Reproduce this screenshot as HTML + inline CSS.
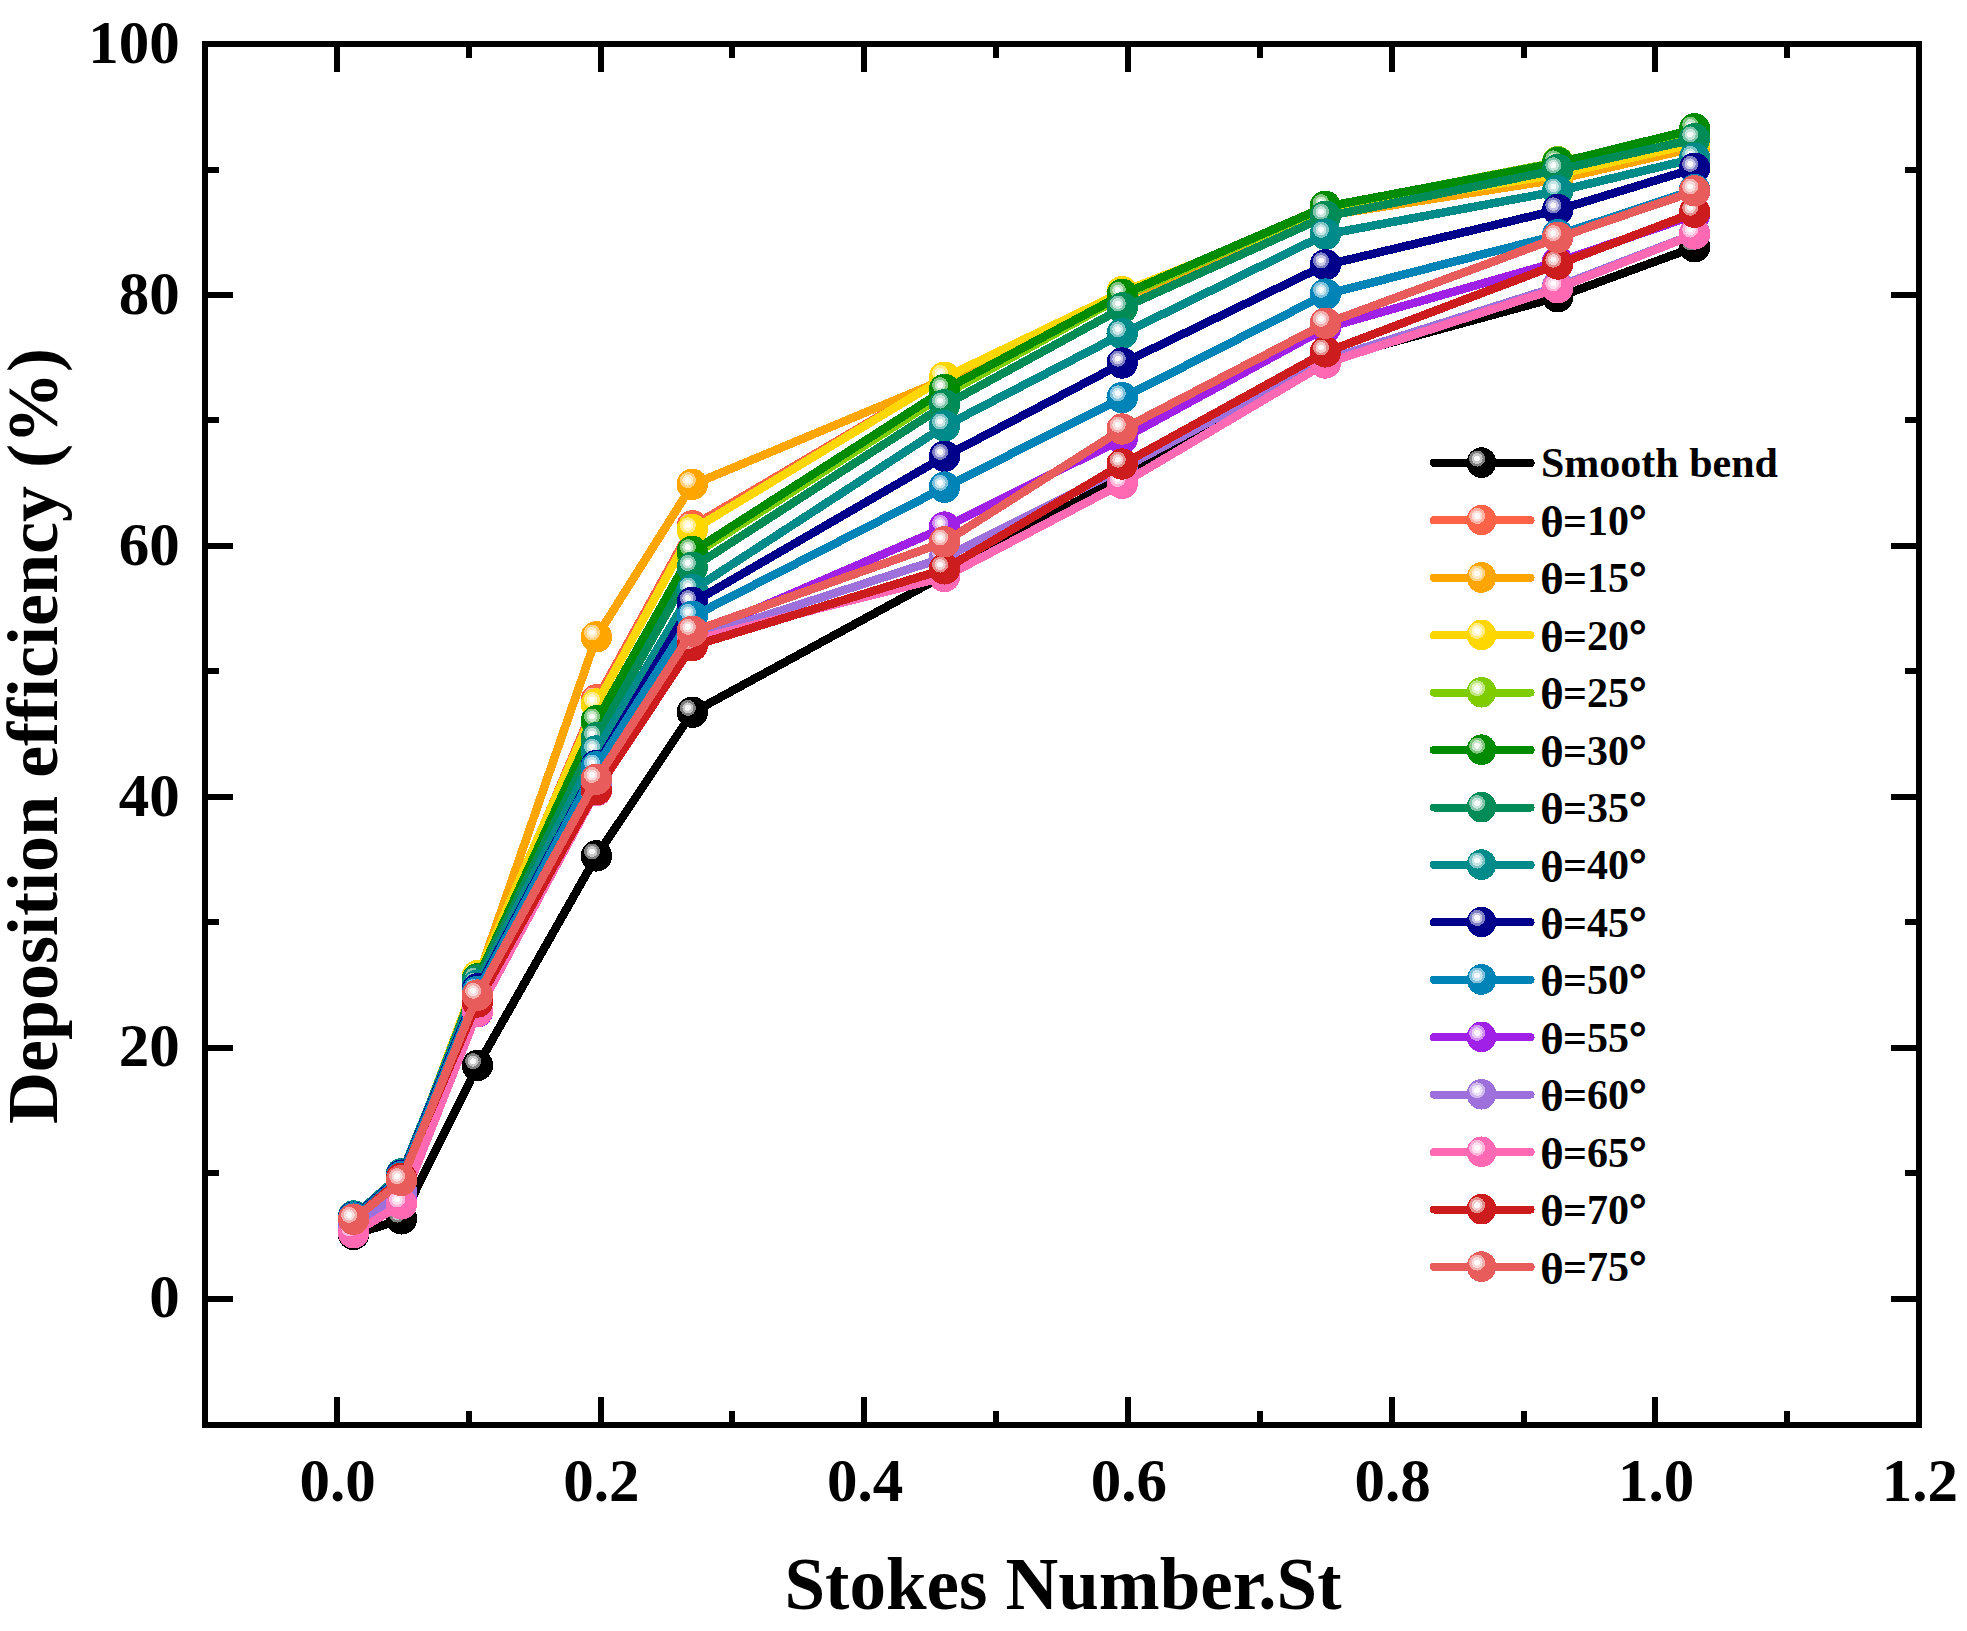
<!DOCTYPE html>
<html lang="en"><head><meta charset="utf-8"><title>Deposition efficiency vs Stokes Number</title>
<style>
html,body{margin:0;padding:0;background:#fff;}
body{width:1967px;height:1631px;overflow:hidden;}
svg{display:block;}
text{font-family:"Liberation Serif","Times New Roman",Times,serif;font-weight:bold;fill:#000;}
.tk{font-size:61px;}
.ttl{font-size:73px;}
.lg{font-size:42px;}
.ax{stroke:#000;stroke-width:6;fill:none;shape-rendering:crispEdges;}
.s{fill:none;stroke-width:8.5;stroke-linejoin:round;stroke-linecap:round;shape-rendering:crispEdges;}
.m{shape-rendering:crispEdges;}
</style></head><body>
<svg width="1967" height="1631" viewBox="0 0 1967 1631">
<rect x="0" y="0" width="1967" height="1631" fill="#fff"/>
<defs>
<g id="m0" class="m"><circle r="15.7" fill="#000000"/><circle cx="-4.4" cy="-4.3" r="8" fill="#808080"/><circle cx="-4.4" cy="-4.3" r="5.5" fill="#C7C7C7"/><circle cx="-4.4" cy="-4.3" r="2.9" fill="#F7F7F7"/></g>
<g id="k0" class="m"><ellipse cy="-0.3" rx="14.8" ry="15.3" fill="#000000"/><circle cx="-4.4" cy="-4.3" r="8" fill="#808080"/><circle cx="-4.4" cy="-4.3" r="5.5" fill="#C7C7C7"/><circle cx="-4.4" cy="-4.3" r="2.9" fill="#F7F7F7"/></g>
<g id="m1" class="m"><circle r="15.7" fill="#FF6347"/><circle cx="-4.4" cy="-4.3" r="8" fill="#FFB1A3"/><circle cx="-4.4" cy="-4.3" r="5.5" fill="#FFDDD7"/><circle cx="-4.4" cy="-4.3" r="2.9" fill="#FFFAF9"/></g>
<g id="k1" class="m"><ellipse cy="-0.3" rx="14.8" ry="15.3" fill="#FF6347"/><circle cx="-4.4" cy="-4.3" r="8" fill="#FFB1A3"/><circle cx="-4.4" cy="-4.3" r="5.5" fill="#FFDDD7"/><circle cx="-4.4" cy="-4.3" r="2.9" fill="#FFFAF9"/></g>
<g id="m2" class="m"><circle r="15.7" fill="#FFA500"/><circle cx="-4.4" cy="-4.3" r="8" fill="#FFD280"/><circle cx="-4.4" cy="-4.3" r="5.5" fill="#FFEBC7"/><circle cx="-4.4" cy="-4.3" r="2.9" fill="#FFFCF7"/></g>
<g id="k2" class="m"><ellipse cy="-0.3" rx="14.8" ry="15.3" fill="#FFA500"/><circle cx="-4.4" cy="-4.3" r="8" fill="#FFD280"/><circle cx="-4.4" cy="-4.3" r="5.5" fill="#FFEBC7"/><circle cx="-4.4" cy="-4.3" r="2.9" fill="#FFFCF7"/></g>
<g id="m3" class="m"><circle r="15.7" fill="#FFD700"/><circle cx="-4.4" cy="-4.3" r="8" fill="#FFEB80"/><circle cx="-4.4" cy="-4.3" r="5.5" fill="#FFF6C7"/><circle cx="-4.4" cy="-4.3" r="2.9" fill="#FFFEF7"/></g>
<g id="k3" class="m"><ellipse cy="-0.3" rx="14.8" ry="15.3" fill="#FFD700"/><circle cx="-4.4" cy="-4.3" r="8" fill="#FFEB80"/><circle cx="-4.4" cy="-4.3" r="5.5" fill="#FFF6C7"/><circle cx="-4.4" cy="-4.3" r="2.9" fill="#FFFEF7"/></g>
<g id="m4" class="m"><circle r="15.7" fill="#7FCC00"/><circle cx="-4.4" cy="-4.3" r="8" fill="#BFE680"/><circle cx="-4.4" cy="-4.3" r="5.5" fill="#E3F4C7"/><circle cx="-4.4" cy="-4.3" r="2.9" fill="#FBFDF7"/></g>
<g id="k4" class="m"><ellipse cy="-0.3" rx="14.8" ry="15.3" fill="#7FCC00"/><circle cx="-4.4" cy="-4.3" r="8" fill="#BFE680"/><circle cx="-4.4" cy="-4.3" r="5.5" fill="#E3F4C7"/><circle cx="-4.4" cy="-4.3" r="2.9" fill="#FBFDF7"/></g>
<g id="m5" class="m"><circle r="15.7" fill="#008B00"/><circle cx="-4.4" cy="-4.3" r="8" fill="#80C580"/><circle cx="-4.4" cy="-4.3" r="5.5" fill="#C7E5C7"/><circle cx="-4.4" cy="-4.3" r="2.9" fill="#F7FCF7"/></g>
<g id="k5" class="m"><ellipse cy="-0.3" rx="14.8" ry="15.3" fill="#008B00"/><circle cx="-4.4" cy="-4.3" r="8" fill="#80C580"/><circle cx="-4.4" cy="-4.3" r="5.5" fill="#C7E5C7"/><circle cx="-4.4" cy="-4.3" r="2.9" fill="#F7FCF7"/></g>
<g id="m6" class="m"><circle r="15.7" fill="#008B57"/><circle cx="-4.4" cy="-4.3" r="8" fill="#80C5AB"/><circle cx="-4.4" cy="-4.3" r="5.5" fill="#C7E5DA"/><circle cx="-4.4" cy="-4.3" r="2.9" fill="#F7FCFA"/></g>
<g id="k6" class="m"><ellipse cy="-0.3" rx="14.8" ry="15.3" fill="#008B57"/><circle cx="-4.4" cy="-4.3" r="8" fill="#80C5AB"/><circle cx="-4.4" cy="-4.3" r="5.5" fill="#C7E5DA"/><circle cx="-4.4" cy="-4.3" r="2.9" fill="#F7FCFA"/></g>
<g id="m7" class="m"><circle r="15.7" fill="#008B8B"/><circle cx="-4.4" cy="-4.3" r="8" fill="#80C5C5"/><circle cx="-4.4" cy="-4.3" r="5.5" fill="#C7E5E5"/><circle cx="-4.4" cy="-4.3" r="2.9" fill="#F7FCFC"/></g>
<g id="k7" class="m"><ellipse cy="-0.3" rx="14.8" ry="15.3" fill="#008B8B"/><circle cx="-4.4" cy="-4.3" r="8" fill="#80C5C5"/><circle cx="-4.4" cy="-4.3" r="5.5" fill="#C7E5E5"/><circle cx="-4.4" cy="-4.3" r="2.9" fill="#F7FCFC"/></g>
<g id="m8" class="m"><circle r="15.7" fill="#00008B"/><circle cx="-4.4" cy="-4.3" r="8" fill="#8080C5"/><circle cx="-4.4" cy="-4.3" r="5.5" fill="#C7C7E5"/><circle cx="-4.4" cy="-4.3" r="2.9" fill="#F7F7FC"/></g>
<g id="k8" class="m"><ellipse cy="-0.3" rx="14.8" ry="15.3" fill="#00008B"/><circle cx="-4.4" cy="-4.3" r="8" fill="#8080C5"/><circle cx="-4.4" cy="-4.3" r="5.5" fill="#C7C7E5"/><circle cx="-4.4" cy="-4.3" r="2.9" fill="#F7F7FC"/></g>
<g id="m9" class="m"><circle r="15.7" fill="#0084B8"/><circle cx="-4.4" cy="-4.3" r="8" fill="#80C2DC"/><circle cx="-4.4" cy="-4.3" r="5.5" fill="#C7E4EF"/><circle cx="-4.4" cy="-4.3" r="2.9" fill="#F7FBFD"/></g>
<g id="k9" class="m"><ellipse cy="-0.3" rx="14.8" ry="15.3" fill="#0084B8"/><circle cx="-4.4" cy="-4.3" r="8" fill="#80C2DC"/><circle cx="-4.4" cy="-4.3" r="5.5" fill="#C7E4EF"/><circle cx="-4.4" cy="-4.3" r="2.9" fill="#F7FBFD"/></g>
<g id="m10" class="m"><circle r="15.7" fill="#A020E8"/><circle cx="-4.4" cy="-4.3" r="8" fill="#D090F4"/><circle cx="-4.4" cy="-4.3" r="5.5" fill="#EACEFA"/><circle cx="-4.4" cy="-4.3" r="2.9" fill="#FCF8FE"/></g>
<g id="k10" class="m"><ellipse cy="-0.3" rx="14.8" ry="15.3" fill="#A020E8"/><circle cx="-4.4" cy="-4.3" r="8" fill="#D090F4"/><circle cx="-4.4" cy="-4.3" r="5.5" fill="#EACEFA"/><circle cx="-4.4" cy="-4.3" r="2.9" fill="#FCF8FE"/></g>
<g id="m11" class="m"><circle r="15.7" fill="#9E70DC"/><circle cx="-4.4" cy="-4.3" r="8" fill="#CEB8EE"/><circle cx="-4.4" cy="-4.3" r="5.5" fill="#EAE0F7"/><circle cx="-4.4" cy="-4.3" r="2.9" fill="#FCFBFE"/></g>
<g id="k11" class="m"><ellipse cy="-0.3" rx="14.8" ry="15.3" fill="#9E70DC"/><circle cx="-4.4" cy="-4.3" r="8" fill="#CEB8EE"/><circle cx="-4.4" cy="-4.3" r="5.5" fill="#EAE0F7"/><circle cx="-4.4" cy="-4.3" r="2.9" fill="#FCFBFE"/></g>
<g id="m12" class="m"><circle r="15.7" fill="#FF69B4"/><circle cx="-4.4" cy="-4.3" r="8" fill="#FFB4DA"/><circle cx="-4.4" cy="-4.3" r="5.5" fill="#FFDEEE"/><circle cx="-4.4" cy="-4.3" r="2.9" fill="#FFFAFD"/></g>
<g id="k12" class="m"><ellipse cy="-0.3" rx="14.8" ry="15.3" fill="#FF69B4"/><circle cx="-4.4" cy="-4.3" r="8" fill="#FFB4DA"/><circle cx="-4.4" cy="-4.3" r="5.5" fill="#FFDEEE"/><circle cx="-4.4" cy="-4.3" r="2.9" fill="#FFFAFD"/></g>
<g id="m13" class="m"><circle r="15.7" fill="#CD1C1E"/><circle cx="-4.4" cy="-4.3" r="8" fill="#E68E8E"/><circle cx="-4.4" cy="-4.3" r="5.5" fill="#F4CDCE"/><circle cx="-4.4" cy="-4.3" r="2.9" fill="#FEF8F8"/></g>
<g id="k13" class="m"><ellipse cy="-0.3" rx="14.8" ry="15.3" fill="#CD1C1E"/><circle cx="-4.4" cy="-4.3" r="8" fill="#E68E8E"/><circle cx="-4.4" cy="-4.3" r="5.5" fill="#F4CDCE"/><circle cx="-4.4" cy="-4.3" r="2.9" fill="#FEF8F8"/></g>
<g id="m14" class="m"><circle r="15.7" fill="#E85C5C"/><circle cx="-4.4" cy="-4.3" r="8" fill="#F4AEAE"/><circle cx="-4.4" cy="-4.3" r="5.5" fill="#FADBDB"/><circle cx="-4.4" cy="-4.3" r="2.9" fill="#FEFAFA"/></g>
<g id="k14" class="m"><ellipse cy="-0.3" rx="14.8" ry="15.3" fill="#E85C5C"/><circle cx="-4.4" cy="-4.3" r="8" fill="#F4AEAE"/><circle cx="-4.4" cy="-4.3" r="5.5" fill="#FADBDB"/><circle cx="-4.4" cy="-4.3" r="2.9" fill="#FEFAFA"/></g>
</defs>
<g id="plots">
<polyline class="s" transform="translate(0 0.4)" stroke="#000000" points="353.6,1234.4 401.5,1218.9 477.5,1065.5 596.4,855.9 692.3,712.2 944.5,574.8 1122.2,475.7 1325.4,360.2 1557.7,296.8 1694.6,246.7"/>
<use href="#m0" x="353.6" y="1234.4"/><use href="#m0" x="401.5" y="1218.9"/><use href="#m0" x="477.5" y="1065.5"/><use href="#m0" x="596.4" y="855.9"/><use href="#m0" x="692.3" y="712.2"/><use href="#m0" x="944.5" y="574.8"/><use href="#m0" x="1122.2" y="475.7"/><use href="#m0" x="1325.4" y="360.2"/><use href="#m0" x="1557.7" y="296.8"/><use href="#m0" x="1694.6" y="246.7"/>
<polyline class="s" transform="translate(0 0.4)" stroke="#FF6347" points="353.6,1219.7 401.5,1179.6 477.5,981.3 596.4,699.8 692.3,525.8 944.5,377.3 1122.2,296.2 1325.4,212.1 1557.7,178.3 1694.6,146.9"/>
<use href="#m1" x="353.6" y="1219.7"/><use href="#m1" x="401.5" y="1179.6"/><use href="#m1" x="477.5" y="981.3"/><use href="#m1" x="596.4" y="699.8"/><use href="#m1" x="692.3" y="525.8"/><use href="#m1" x="944.5" y="377.3"/><use href="#m1" x="1122.2" y="296.2"/><use href="#m1" x="1325.4" y="212.1"/><use href="#m1" x="1557.7" y="178.3"/><use href="#m1" x="1694.6" y="146.9"/>
<polyline class="s" transform="translate(0 0.4)" stroke="#FFA500" points="353.6,1219.7 401.5,1179.6 477.5,978.8 596.4,636.8 692.3,484.4 944.5,379 1122.2,297.5 1325.4,215.3 1557.7,179 1694.6,147.5"/>
<use href="#m2" x="353.6" y="1219.7"/><use href="#m2" x="401.5" y="1179.6"/><use href="#m2" x="477.5" y="978.8"/><use href="#m2" x="596.4" y="636.8"/><use href="#m2" x="692.3" y="484.4"/><use href="#m2" x="944.5" y="379"/><use href="#m2" x="1122.2" y="297.5"/><use href="#m2" x="1325.4" y="215.3"/><use href="#m2" x="1557.7" y="179"/><use href="#m2" x="1694.6" y="147.5"/>
<polyline class="s" transform="translate(0 0.4)" stroke="#FFD700" points="353.6,1219.7 401.5,1179.6 477.5,975.6 596.4,704 692.3,529.6 944.5,377.3 1122.2,291.7 1325.4,210.9 1557.7,174 1694.6,143.1"/>
<use href="#m3" x="353.6" y="1219.7"/><use href="#m3" x="401.5" y="1179.6"/><use href="#m3" x="477.5" y="975.6"/><use href="#m3" x="596.4" y="704"/><use href="#m3" x="692.3" y="529.6"/><use href="#m3" x="944.5" y="377.3"/><use href="#m3" x="1122.2" y="291.7"/><use href="#m3" x="1325.4" y="210.9"/><use href="#m3" x="1557.7" y="174"/><use href="#m3" x="1694.6" y="143.1"/>
<polyline class="s" transform="translate(0 0.4)" stroke="#7FCC00" points="353.6,1228.5 401.5,1194 477.5,978.8 596.4,721.6 692.3,555.1 944.5,394.1 1122.2,296.2 1325.4,207.1 1557.7,161.7 1694.6,133.1"/>
<use href="#m4" x="353.6" y="1228.5"/><use href="#m4" x="401.5" y="1194"/><use href="#m4" x="477.5" y="978.8"/><use href="#m4" x="596.4" y="721.6"/><use href="#m4" x="692.3" y="555.1"/><use href="#m4" x="944.5" y="394.1"/><use href="#m4" x="1122.2" y="296.2"/><use href="#m4" x="1325.4" y="207.1"/><use href="#m4" x="1557.7" y="161.7"/><use href="#m4" x="1694.6" y="133.1"/>
<polyline class="s" transform="translate(0 0.4)" stroke="#008B00" points="353.6,1219.7 401.5,1179.6 477.5,978.8 596.4,720.8 692.3,551.4 944.5,389.4 1122.2,294.3 1325.4,206.4 1557.7,162.6 1694.6,128.9"/>
<use href="#m5" x="353.6" y="1219.7"/><use href="#m5" x="401.5" y="1179.6"/><use href="#m5" x="477.5" y="978.8"/><use href="#m5" x="596.4" y="720.8"/><use href="#m5" x="692.3" y="551.4"/><use href="#m5" x="944.5" y="389.4"/><use href="#m5" x="1122.2" y="294.3"/><use href="#m5" x="1325.4" y="206.4"/><use href="#m5" x="1557.7" y="162.6"/><use href="#m5" x="1694.6" y="128.9"/>
<polyline class="s" transform="translate(0 0.4)" stroke="#008B57" points="353.6,1218.5 401.5,1177.1 477.5,980.1 596.4,737.9 692.3,567.3 944.5,404.9 1122.2,307.8 1325.4,216.2 1557.7,169.5 1694.6,138.7"/>
<use href="#m6" x="353.6" y="1218.5"/><use href="#m6" x="401.5" y="1177.1"/><use href="#m6" x="477.5" y="980.1"/><use href="#m6" x="596.4" y="737.9"/><use href="#m6" x="692.3" y="567.3"/><use href="#m6" x="944.5" y="404.9"/><use href="#m6" x="1122.2" y="307.8"/><use href="#m6" x="1325.4" y="216.2"/><use href="#m6" x="1557.7" y="169.5"/><use href="#m6" x="1694.6" y="138.7"/>
<polyline class="s" transform="translate(0 0.4)" stroke="#008B8B" points="353.6,1216 401.5,1173.7 477.5,985.1 596.4,751 692.3,589.8 944.5,425.8 1122.2,333.6 1325.4,234.1 1557.7,190.8 1694.6,158.2"/>
<use href="#m7" x="353.6" y="1216"/><use href="#m7" x="401.5" y="1173.7"/><use href="#m7" x="477.5" y="985.1"/><use href="#m7" x="596.4" y="751"/><use href="#m7" x="692.3" y="589.8"/><use href="#m7" x="944.5" y="425.8"/><use href="#m7" x="1122.2" y="333.6"/><use href="#m7" x="1325.4" y="234.1"/><use href="#m7" x="1557.7" y="190.8"/><use href="#m7" x="1694.6" y="158.2"/>
<polyline class="s" transform="translate(0 0.4)" stroke="#00008B" points="353.6,1217.2 401.5,1175.2 477.5,988.9 596.4,765.5 692.3,602.4 944.5,456.2 1122.2,363 1325.4,264.7 1557.7,209.6 1694.6,168.2"/>
<use href="#m8" x="353.6" y="1217.2"/><use href="#m8" x="401.5" y="1175.2"/><use href="#m8" x="477.5" y="988.9"/><use href="#m8" x="596.4" y="765.5"/><use href="#m8" x="692.3" y="602.4"/><use href="#m8" x="944.5" y="456.2"/><use href="#m8" x="1122.2" y="363"/><use href="#m8" x="1325.4" y="264.7"/><use href="#m8" x="1557.7" y="209.6"/><use href="#m8" x="1694.6" y="168.2"/>
<polyline class="s" transform="translate(0 0.4)" stroke="#0084B8" points="353.6,1217.9 401.5,1176.5 477.5,991.4 596.4,766.8 692.3,616.2 944.5,487.1 1122.2,397.6 1325.4,294.1 1557.7,234.7 1694.6,189.6"/>
<use href="#m9" x="353.6" y="1217.9"/><use href="#m9" x="401.5" y="1176.5"/><use href="#m9" x="477.5" y="991.4"/><use href="#m9" x="596.4" y="766.8"/><use href="#m9" x="692.3" y="616.2"/><use href="#m9" x="944.5" y="487.1"/><use href="#m9" x="1122.2" y="397.6"/><use href="#m9" x="1325.4" y="294.1"/><use href="#m9" x="1557.7" y="234.7"/><use href="#m9" x="1694.6" y="189.6"/>
<polyline class="s" transform="translate(0 0.4)" stroke="#A020E8" points="353.6,1228.5 401.5,1198.4 477.5,1011.8 596.4,785.6 692.3,636.3 944.5,527.1 1122.2,438.6 1325.4,327.8 1557.7,261.6 1694.6,214.7"/>
<use href="#m10" x="353.6" y="1228.5"/><use href="#m10" x="401.5" y="1198.4"/><use href="#m10" x="477.5" y="1011.8"/><use href="#m10" x="596.4" y="785.6"/><use href="#m10" x="692.3" y="636.3"/><use href="#m10" x="944.5" y="527.1"/><use href="#m10" x="1122.2" y="438.6"/><use href="#m10" x="1325.4" y="327.8"/><use href="#m10" x="1557.7" y="261.6"/><use href="#m10" x="1694.6" y="214.7"/>
<polyline class="s" transform="translate(0 0.4)" stroke="#9E70DC" points="353.6,1226.6 401.5,1191.5 477.5,1011.5 596.4,786.8 692.3,638.8 944.5,557.2 1122.2,468.1 1325.4,359.6 1557.7,286.2 1694.6,233.5"/>
<use href="#m11" x="353.6" y="1226.6"/><use href="#m11" x="401.5" y="1191.5"/><use href="#m11" x="477.5" y="1011.5"/><use href="#m11" x="596.4" y="786.8"/><use href="#m11" x="692.3" y="638.8"/><use href="#m11" x="944.5" y="557.2"/><use href="#m11" x="1122.2" y="468.1"/><use href="#m11" x="1325.4" y="359.6"/><use href="#m11" x="1557.7" y="286.2"/><use href="#m11" x="1694.6" y="233.5"/>
<polyline class="s" transform="translate(0 0.4)" stroke="#FF69B4" points="353.6,1232.7 401.5,1203.8 477.5,1011.5 596.4,790.6 692.3,640 944.5,576.5 1122.2,483.3 1325.4,363 1557.7,287.8 1694.6,233.9"/>
<use href="#m12" x="353.6" y="1232.7"/><use href="#m12" x="401.5" y="1203.8"/><use href="#m12" x="477.5" y="1011.5"/><use href="#m12" x="596.4" y="790.6"/><use href="#m12" x="692.3" y="640"/><use href="#m12" x="944.5" y="576.5"/><use href="#m12" x="1122.2" y="483.3"/><use href="#m12" x="1325.4" y="363"/><use href="#m12" x="1557.7" y="287.8"/><use href="#m12" x="1694.6" y="233.9"/>
<polyline class="s" transform="translate(0 0.4)" stroke="#CD1C1E" points="353.6,1219.2 401.5,1178.3 477.5,1002 596.4,789.7 692.3,645.7 944.5,568.9 1122.2,464 1325.4,351.9 1557.7,264 1694.6,212.1"/>
<use href="#m13" x="353.6" y="1219.2"/><use href="#m13" x="401.5" y="1178.3"/><use href="#m13" x="477.5" y="1002"/><use href="#m13" x="596.4" y="789.7"/><use href="#m13" x="692.3" y="645.7"/><use href="#m13" x="944.5" y="568.9"/><use href="#m13" x="1122.2" y="464"/><use href="#m13" x="1325.4" y="351.9"/><use href="#m13" x="1557.7" y="264"/><use href="#m13" x="1694.6" y="212.1"/>
<polyline class="s" transform="translate(0 0.4)" stroke="#E85C5C" points="353.6,1219.2 401.5,1180.5 477.5,995.1 596.4,779.3 692.3,631.2 944.5,541.8 1122.2,429 1325.4,323.2 1557.7,237.4 1694.6,190.8"/>
<use href="#m14" x="353.6" y="1219.2"/><use href="#m14" x="401.5" y="1180.5"/><use href="#m14" x="477.5" y="995.1"/><use href="#m14" x="596.4" y="779.3"/><use href="#m14" x="692.3" y="631.2"/><use href="#m14" x="944.5" y="541.8"/><use href="#m14" x="1122.2" y="429"/><use href="#m14" x="1325.4" y="323.2"/><use href="#m14" x="1557.7" y="237.4"/><use href="#m14" x="1694.6" y="190.8"/>
</g>
<path class="ax" d="M336.9 1424.8 v-28 M336.9 44 v28 M600.5 1424.8 v-28 M600.5 44 v28 M864.2 1424.8 v-28 M864.2 44 v28 M1128 1424.8 v-28 M1128 44 v28 M1391.7 1424.8 v-28 M1391.7 44 v28 M1655.3 1424.8 v-28 M1655.3 44 v28 M468.7 1424.8 v-14 M468.7 44 v14 M732.4 1424.8 v-14 M732.4 44 v14 M996.1 1424.8 v-14 M996.1 44 v14 M1259.8 1424.8 v-14 M1259.8 44 v14 M1523.5 1424.8 v-14 M1523.5 44 v14 M1787.2 1424.8 v-14 M1787.2 44 v14 M205 1298.8 h28 M1919 1298.8 h-28 M205 1047.8 h28 M1919 1047.8 h-28 M205 796.9 h28 M1919 796.9 h-28 M205 545.9 h28 M1919 545.9 h-28 M205 295 h28 M1919 295 h-28 M205 1173.3 h14 M1919 1173.3 h-14 M205 922.4 h14 M1919 922.4 h-14 M205 671.4 h14 M1919 671.4 h-14 M205 420.4 h14 M1919 420.4 h-14 M205 169.5 h14 M1919 169.5 h-14"/>
<rect class="ax" x="205" y="44" width="1714" height="1380.8"/>
<g class="tk" text-anchor="end">
<text x="179.8" y="1317.4">0</text>
<text x="179.8" y="1066.4">20</text>
<text x="179.8" y="815.5">40</text>
<text x="179.8" y="564.5">60</text>
<text x="179.8" y="313.6">80</text>
<text x="179.8" y="62.6">100</text>
</g>
<g class="tk" text-anchor="middle">
<text x="337.7" y="1500.5">0.0</text>
<text x="601.3" y="1500.5">0.2</text>
<text x="865" y="1500.5">0.4</text>
<text x="1128.8" y="1500.5">0.6</text>
<text x="1392.5" y="1500.5">0.8</text>
<text x="1656.1" y="1500.5">1.0</text>
<text x="1919.9" y="1500.5">1.2</text>
</g>
<text class="ttl" text-anchor="middle" x="1063" y="1609.3">Stokes Number.St</text>
<text class="ttl" style="font-size:72px" text-anchor="middle" transform="translate(57.2 736) rotate(-90)">Deposition efficiency (%)</text>
<g id="legend">
<line class="s" style="stroke-width:8" stroke="#000000" x1="1433.8" y1="462.9" x2="1530.6" y2="462.9"/><use href="#k0" x="1481.5" y="462.9"/><text class="lg" x="1541" y="477.4">Smooth bend</text>
<line class="s" style="stroke-width:8" stroke="#FF6347" x1="1433.8" y1="520.3" x2="1530.6" y2="520.3"/><use href="#k1" x="1481.5" y="520.3"/><text class="lg" x="1540.2" y="534.8"><tspan style="font-size:45px" dy="2.1">θ</tspan><tspan dy="-2.1" dx="-0.7">=10</tspan><tspan style="font-size:44px;stroke:#000;stroke-width:1px">°</tspan></text>
<line class="s" style="stroke-width:8" stroke="#FFA500" x1="1433.8" y1="577.8" x2="1530.6" y2="577.8"/><use href="#k2" x="1481.5" y="577.8"/><text class="lg" x="1540.2" y="592.3"><tspan style="font-size:45px" dy="2.1">θ</tspan><tspan dy="-2.1" dx="-0.7">=15</tspan><tspan style="font-size:44px;stroke:#000;stroke-width:1px">°</tspan></text>
<line class="s" style="stroke-width:8" stroke="#FFD700" x1="1433.8" y1="635.2" x2="1530.6" y2="635.2"/><use href="#k3" x="1481.5" y="635.2"/><text class="lg" x="1540.2" y="649.7"><tspan style="font-size:45px" dy="2.1">θ</tspan><tspan dy="-2.1" dx="-0.7">=20</tspan><tspan style="font-size:44px;stroke:#000;stroke-width:1px">°</tspan></text>
<line class="s" style="stroke-width:8" stroke="#7FCC00" x1="1433.8" y1="692.6" x2="1530.6" y2="692.6"/><use href="#k4" x="1481.5" y="692.6"/><text class="lg" x="1540.2" y="707.1"><tspan style="font-size:45px" dy="2.1">θ</tspan><tspan dy="-2.1" dx="-0.7">=25</tspan><tspan style="font-size:44px;stroke:#000;stroke-width:1px">°</tspan></text>
<line class="s" style="stroke-width:8" stroke="#008B00" x1="1433.8" y1="750" x2="1530.6" y2="750"/><use href="#k5" x="1481.5" y="750"/><text class="lg" x="1540.2" y="764.5"><tspan style="font-size:45px" dy="2.1">θ</tspan><tspan dy="-2.1" dx="-0.7">=30</tspan><tspan style="font-size:44px;stroke:#000;stroke-width:1px">°</tspan></text>
<line class="s" style="stroke-width:8" stroke="#008B57" x1="1433.8" y1="807.5" x2="1530.6" y2="807.5"/><use href="#k6" x="1481.5" y="807.5"/><text class="lg" x="1540.2" y="822"><tspan style="font-size:45px" dy="2.1">θ</tspan><tspan dy="-2.1" dx="-0.7">=35</tspan><tspan style="font-size:44px;stroke:#000;stroke-width:1px">°</tspan></text>
<line class="s" style="stroke-width:8" stroke="#008B8B" x1="1433.8" y1="864.9" x2="1530.6" y2="864.9"/><use href="#k7" x="1481.5" y="864.9"/><text class="lg" x="1540.2" y="879.4"><tspan style="font-size:45px" dy="2.1">θ</tspan><tspan dy="-2.1" dx="-0.7">=40</tspan><tspan style="font-size:44px;stroke:#000;stroke-width:1px">°</tspan></text>
<line class="s" style="stroke-width:8" stroke="#00008B" x1="1433.8" y1="922.3" x2="1530.6" y2="922.3"/><use href="#k8" x="1481.5" y="922.3"/><text class="lg" x="1540.2" y="936.8"><tspan style="font-size:45px" dy="2.1">θ</tspan><tspan dy="-2.1" dx="-0.7">=45</tspan><tspan style="font-size:44px;stroke:#000;stroke-width:1px">°</tspan></text>
<line class="s" style="stroke-width:8" stroke="#0084B8" x1="1433.8" y1="979.8" x2="1530.6" y2="979.8"/><use href="#k9" x="1481.5" y="979.8"/><text class="lg" x="1540.2" y="994.3"><tspan style="font-size:45px" dy="2.1">θ</tspan><tspan dy="-2.1" dx="-0.7">=50</tspan><tspan style="font-size:44px;stroke:#000;stroke-width:1px">°</tspan></text>
<line class="s" style="stroke-width:8" stroke="#A020E8" x1="1433.8" y1="1037.2" x2="1530.6" y2="1037.2"/><use href="#k10" x="1481.5" y="1037.2"/><text class="lg" x="1540.2" y="1051.7"><tspan style="font-size:45px" dy="2.1">θ</tspan><tspan dy="-2.1" dx="-0.7">=55</tspan><tspan style="font-size:44px;stroke:#000;stroke-width:1px">°</tspan></text>
<line class="s" style="stroke-width:8" stroke="#9E70DC" x1="1433.8" y1="1094.6" x2="1530.6" y2="1094.6"/><use href="#k11" x="1481.5" y="1094.6"/><text class="lg" x="1540.2" y="1109.1"><tspan style="font-size:45px" dy="2.1">θ</tspan><tspan dy="-2.1" dx="-0.7">=60</tspan><tspan style="font-size:44px;stroke:#000;stroke-width:1px">°</tspan></text>
<line class="s" style="stroke-width:8" stroke="#FF69B4" x1="1433.8" y1="1152.1" x2="1530.6" y2="1152.1"/><use href="#k12" x="1481.5" y="1152.1"/><text class="lg" x="1540.2" y="1166.6"><tspan style="font-size:45px" dy="2.1">θ</tspan><tspan dy="-2.1" dx="-0.7">=65</tspan><tspan style="font-size:44px;stroke:#000;stroke-width:1px">°</tspan></text>
<line class="s" style="stroke-width:8" stroke="#CD1C1E" x1="1433.8" y1="1209.5" x2="1530.6" y2="1209.5"/><use href="#k13" x="1481.5" y="1209.5"/><text class="lg" x="1540.2" y="1224"><tspan style="font-size:45px" dy="2.1">θ</tspan><tspan dy="-2.1" dx="-0.7">=70</tspan><tspan style="font-size:44px;stroke:#000;stroke-width:1px">°</tspan></text>
<line class="s" style="stroke-width:8" stroke="#E85C5C" x1="1433.8" y1="1266.9" x2="1530.6" y2="1266.9"/><use href="#k14" x="1481.5" y="1266.9"/><text class="lg" x="1540.2" y="1281.4"><tspan style="font-size:45px" dy="2.1">θ</tspan><tspan dy="-2.1" dx="-0.7">=75</tspan><tspan style="font-size:44px;stroke:#000;stroke-width:1px">°</tspan></text>
</g>
</svg></body></html>
